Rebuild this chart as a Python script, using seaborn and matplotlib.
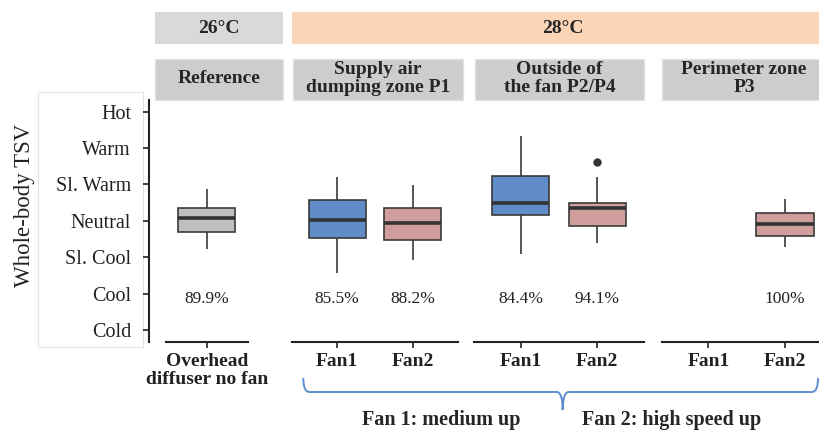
import numpy as np
import pandas as pd
import seaborn as sns
import matplotlib
matplotlib.use("Agg")
import matplotlib.pyplot as plt
from matplotlib.patches import Rectangle, PathPatch
from matplotlib.path import Path

sns.set_style("white")
plt.rcParams["font.family"] = ["Liberation Serif", "DejaVu Serif"]

# Thermal sensation vote scale
tsv_levels = [-3, -2, -1, 0, 1, 2, 3]
tsv_labels = ["Cold", "Cool", "Sl. Cool", "Neutral", "Sl. Warm", "Warm", "Hot"]

# Measurement zones and fan settings
zone_keys = ["Reference", "P1", "P2/P4", "P3"]
zone_titles = ["Reference", "Supply air\ndumping zone P1",
               "Outside of\nthe fan P2/P4", "Perimeter zone\nP3"]
zone_orders = [["No fan"], ["Fan1", "Fan2"], ["Fan1", "Fan2"], ["Fan1", "Fan2"]]
zone_ticklabels = [["Overhead\ndiffuser no fan"], ["Fan1", "Fan2"],
                   ["Fan1", "Fan2"], ["Fan1", "Fan2"]]

# Box statistics of whole-body TSV per condition
cond_zone = ["Reference", "P1", "P1", "P2/P4", "P2/P4", "P3"]
cond_fan = ["No fan", "Fan1", "Fan2", "Fan1", "Fan2", "Fan2"]
whisk_lo = [-0.78, -1.42, -1.07, -0.91, -0.60, -0.73]
q1 = [-0.30, -0.47, -0.53, 0.16, -0.13, -0.41]
median = [0.08, 0.02, -0.05, 0.48, 0.34, -0.09]
q3 = [0.34, 0.58, 0.34, 1.22, 0.50, 0.22]
whisk_hi = [0.87, 1.20, 0.98, 2.34, 1.20, 0.61]

# Outlying votes
out_zone = ["P2/P4"]
out_fan = ["Fan2"]
out_tsv = [1.61]

# Thermal acceptability (%)
accept = [89.9, 85.5, 88.2, 84.4, 94.1, 100]

palette = {"No fan": "#bfbfbf", "Fan1": "#4f8ad8", "Fan2": "#d99594"}

# Long table: one row per summary value, so quartiles come out exactly
rows = []
for i in range(len(cond_zone)):
    for v in (whisk_lo[i], q1[i], median[i], q3[i], whisk_hi[i]):
        rows.append({"zone": cond_zone[i], "fan": cond_fan[i], "tsv": v})
df = pd.DataFrame(rows)
df_out = pd.DataFrame({"zone": out_zone, "fan": out_fan, "tsv": out_tsv})
df_acc = pd.DataFrame({"zone": cond_zone, "fan": cond_fan, "acc": accept})

W, H = 820, 430
fig = plt.figure(figsize=(W / 100, H / 100), dpi=100)
PX = 72 / 100  # points per pixel


def fx(x):
    return x / W


def fy(y):
    return 1 - y / H


def fig_rect(x0, x1, y0, y1, face, edge="none", lw=0.0):
    fig.patches.append(Rectangle((fx(x0), fy(y1)), fx(x1) - fx(x0), fy(y0) - fy(y1),
                                 transform=fig.transFigure, facecolor=face,
                                 edgecolor=edge, linewidth=lw, zorder=-5))


# Frame around the vote labels
fig_rect(38, 143, 92, 347, "white", "#e4e4e4", 0.8)

# Panel placement (pixels) and x ranges
panel_px = [(166, 247.7), (291.7, 458.3), (474, 644), (662.3, 831)]
panel_xlim = [(-0.54, 0.54), (-0.6, 1.6), (-0.61, 1.61), (-0.6, 1.6)]
top_px, bot_px = 100, 341.7

ink = "#3a3a3a"
for k, zone in enumerate(zone_keys):
    x0, x1 = panel_px[k]
    ax = fig.add_axes([fx(x0), fy(bot_px), fx(x1) - fx(x0), fy(top_px) - fy(bot_px)])
    ax.patch.set_alpha(0)
    order = zone_orders[k]
    sub = df[df.zone == zone]
    sns.boxplot(data=sub, x="fan", y="tsv", hue="fan", order=order, hue_order=order,
                palette=palette, width=0.75, linewidth=1.1, linecolor=ink,
                showcaps=False, whis=1.5, legend=False, ax=ax,
                medianprops={"linewidth": 2.6, "color": "#333333"},
                whiskerprops={"linewidth": 1.2, "color": ink},
                boxprops={"linewidth": 1.2, "edgecolor": ink})
    so = df_out[df_out.zone == zone]
    if len(so):
        sns.stripplot(data=so, x="fan", y="tsv", order=order, jitter=False,
                      color="#333333", size=6, ax=ax)
    sa = df_acc[df_acc.zone == zone]
    for _, r in sa.iterrows():
        ax.text(order.index(r.fan), -2.15, f"{r.acc:g}%", ha="center", va="center",
                fontsize=12.5, color="#222222")

    ax.set_xlim(*panel_xlim[k])
    ax.set_ylim(-3.32, 3.32)
    ax.set_xlabel("")
    ax.set_ylabel("")
    ax.set_xticks(range(len(order)))
    ax.set_xticklabels(zone_ticklabels[k], fontsize=14, fontweight="bold",
                       linespacing=1.1)
    ax.tick_params(axis="x", length=4, width=1.2, pad=4, direction="out",
                   colors="#222222", bottom=True)
    for s in ("top", "right"):
        ax.spines[s].set_visible(False)
    ax.spines["bottom"].set_linewidth(1.5)
    ax.spines["bottom"].set_color("#222222")
    if k == 0:
        ax.spines["left"].set_visible(True)
        ax.spines["left"].set_position(("outward", 17 * PX))
        ax.spines["left"].set_linewidth(1.5)
        ax.spines["left"].set_color("#222222")
        ax.set_yticks(tsv_levels)
        ax.set_yticklabels(tsv_labels, fontsize=14.5)
        ax.tick_params(axis="y", length=4, width=1.2, pad=9, direction="out",
                       colors="#222222", left=True, labelleft=True)
    else:
        ax.spines["left"].set_visible(False)
        ax.set_yticks([])

fig.text(fx(25), fy(205), "Whole-body TSV", rotation=90, ha="center", va="center",
         fontsize=16.5, color="#222222")

# Temperature headers
fig_rect(155, 282.7, 11.7, 44, "#d9d9d9")
fig_rect(292.3, 834, 11.7, 44, "#fbd5b6")
fig.text(fx(219), fy(28.5), "26°C", ha="center", va="center", fontsize=14,
         fontweight="bold")
fig.text(fx(563), fy(28.5), "28°C", ha="center", va="center", fontsize=14,
         fontweight="bold")

# Zone headers
zone_box_px = [(155, 283.3), (293.3, 462.7), (475, 644.3), (662.3, 826)]
for (x0, x1), title in zip(zone_box_px, zone_titles):
    fig_rect(x0, x1, 59.3, 100, "#cdcdcd", "#e2e2e2", 1.0)
    fig.text(fx((x0 + x1) / 2), fy(78.5), title, ha="center", va="center",
             fontsize=14, fontweight="bold", linespacing=1.05)

# Brace under the fan conditions
bx0, bx1, bmid = 303.3, 818, 562.7
yb_top, yb_line, yb_tip = 378, 392, 410
verts = [
    (bx0, yb_top), (bx0, yb_line), (bx0 + 6, yb_line),
    (bmid - 6, yb_line),
    (bmid, yb_line), (bmid, yb_tip),
    (bmid, yb_line), (bmid + 6, yb_line),
    (bx1 - 6, yb_line),
    (bx1, yb_line), (bx1, yb_top),
]
codes = [Path.MOVETO, Path.CURVE3, Path.CURVE3, Path.LINETO,
         Path.CURVE3, Path.CURVE3, Path.CURVE3, Path.CURVE3,
         Path.LINETO, Path.CURVE3, Path.CURVE3]
brace = Path([(fx(x), fy(y)) for x, y in verts], codes)
fig.patches.append(PathPatch(brace, transform=fig.transFigure, facecolor="none",
                             edgecolor="#5b8fd0", linewidth=1.4))

fig.text(fx(441), fy(419.5), "Fan 1: medium up", ha="center", va="center",
         fontsize=14.5, fontweight="bold")
fig.text(fx(671.7), fy(419.5), "Fan 2: high speed up", ha="center", va="center",
         fontsize=14.5, fontweight="bold")

fig.savefig("out.png", dpi=100)
